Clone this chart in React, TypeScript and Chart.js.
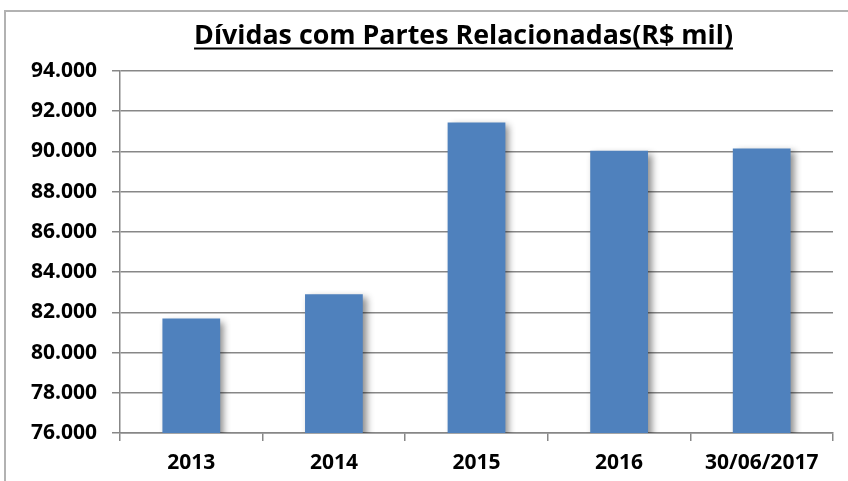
import React, { useEffect, useRef } from "react";
import { Chart, registerables } from "chart.js";

Chart.register(...registerables);

const TITLE = "Dívidas com Partes Relacionadas(R$ mil)";
const categories = ["2013", "2014", "2015", "2016", "30/06/2017"];
const values = [81690, 82900, 91440, 90030, 90150];
const yMin = 76000;
const yMax = 94000;
const yStep = 2000;

const FONT = "'Open Sans', 'Liberation Sans', sans-serif";
const GRID = "#878787";

function fmt(v: number): string {
  const s = Math.round(v).toString();
  return s.replace(/\B(?=(\d{3})+(?!\d))/g, ".");
}

const framePlugin = {
  id: "frame",
  beforeDraw(chart: any) {
    const ctx = chart.ctx;
    ctx.save();
    ctx.fillStyle = "#ffffff";
    ctx.fillRect(0, 0, chart.width, chart.height);
    ctx.strokeStyle = "#b2b2b2";
    ctx.lineWidth = 2;
    ctx.beginPath();
    ctx.moveTo(5, chart.height + 5);
    ctx.lineTo(5, 11);
    ctx.lineTo(chart.width + 5, 11);
    ctx.stroke();
    ctx.restore();
  },
};

const titlePlugin = {
  id: "ulTitle",
  afterDraw(chart: any) {
    const ctx = chart.ctx;
    ctx.save();
    let size = 24;
    ctx.font = `bold ${size}px ${FONT}`;
    const w0 = ctx.measureText(TITLE).width;
    size = (size * 539) / w0;
    ctx.font = `bold ${size}px ${FONT}`;
    const w = ctx.measureText(TITLE).width;
    const cx = 463.5;
    ctx.fillStyle = "#000000";
    ctx.textAlign = "center";
    ctx.textBaseline = "alphabetic";
    ctx.fillText(TITLE, cx, 43.5);
    ctx.fillRect(cx - w / 2, 47.5, w, 2);
    ctx.restore();
  },
};

const shadowPlugin = {
  id: "barShadow",
  beforeDatasetsDraw(chart: any) {
    const ctx = chart.ctx;
    ctx.save();
    ctx.shadowColor = "rgba(0,0,0,0.45)";
    ctx.shadowBlur = 7;
    ctx.shadowOffsetX = 4;
    ctx.shadowOffsetY = 3;
  },
  afterDatasetsDraw(chart: any) {
    chart.ctx.restore();
  },
};

export default function App() {
  const ref = useRef<HTMLCanvasElement | null>(null);

  useEffect(() => {
    if (!ref.current) return;
    const chart = new Chart(ref.current, {
      type: "bar",
      data: {
        labels: categories,
        datasets: [
          {
            data: values,
            backgroundColor: "#4f81bd",
            borderWidth: 0,
            barPercentage: 1,
            categoryPercentage: 0.405,
          },
        ],
      },
      options: {
        animation: false,
        responsive: false,
        maintainAspectRatio: false,
        layout: { padding: { top: 71, right: 15, bottom: 0, left: 0 } },
        plugins: {
          legend: { display: false },
          title: { display: false },
          tooltip: { enabled: false },
        },
        scales: {
          x: {
            grid: {
              display: true,
              drawOnChartArea: false,
              drawTicks: true,
              tickLength: 8,
              color: GRID,
              lineWidth: 1.5,
              offset: true,
            },
            border: { display: true, color: GRID, width: 1.5 },
            ticks: {
              color: "#000000",
              font: { family: FONT, size: 21, weight: "bold" },
              padding: 9,
              maxRotation: 0,
              autoSkip: false,
            },
            afterFit: (scale: any) => {
              scale.height = 48;
            },
          },
          y: {
            min: yMin,
            max: yMax,
            grid: {
              color: GRID,
              lineWidth: 1.5,
              drawTicks: true,
              tickLength: 8,
            },
            border: { display: true, color: GRID, width: 1.5 },
            ticks: {
              stepSize: yStep,
              color: "#000000",
              font: { family: FONT, size: 21, weight: "bold" },
              padding: 15,
              callback: (v: any) => fmt(Number(v)),
            },
            afterFit: (scale: any) => {
              scale.width = 120;
            },
          },
        },
      },
      plugins: [framePlugin, shadowPlugin, titlePlugin],
    });
    return () => chart.destroy();
  }, []);

  return (
    <div style={{ position: "absolute", left: 0, top: 0, width: 848, height: 481 }}>
      <canvas ref={ref} width={848} height={481} style={{ display: "block" }} />
    </div>
  );
}
